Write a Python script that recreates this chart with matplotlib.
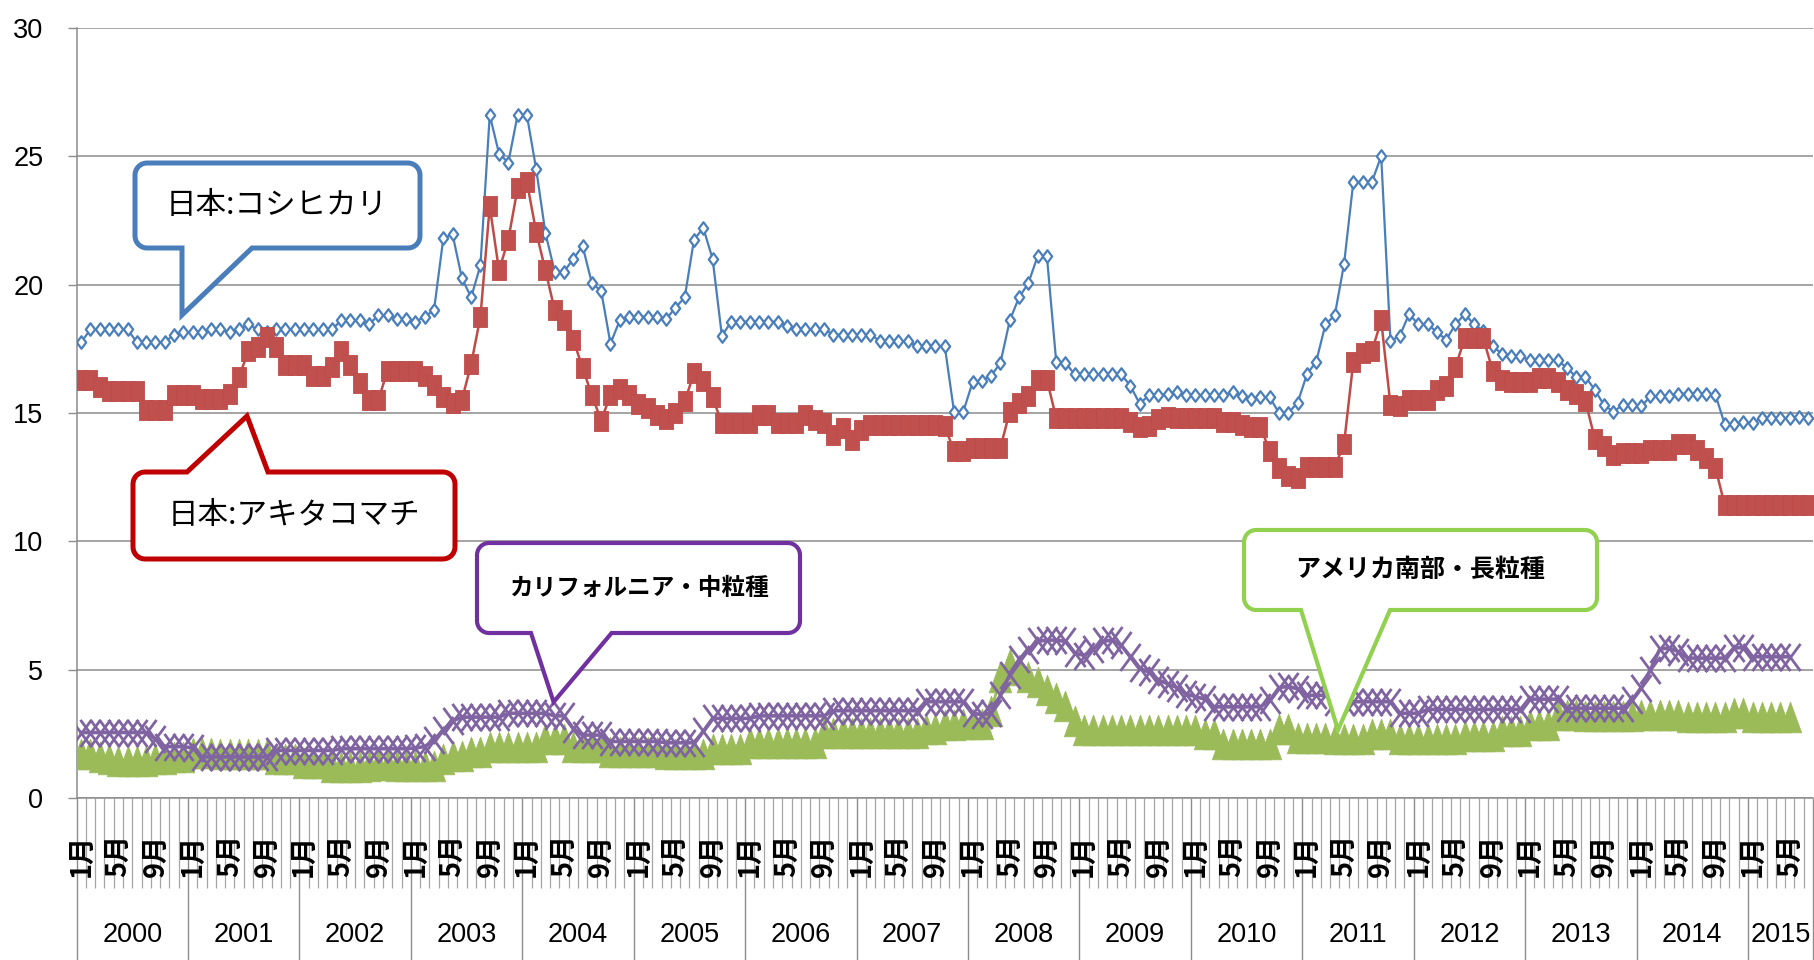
import matplotlib
matplotlib.use('Agg')
import matplotlib.pyplot as plt
from matplotlib import font_manager
from matplotlib.path import Path
from matplotlib.patches import PathPatch
from matplotlib.transforms import blended_transform_factory
import numpy as np

W, H = 1814, 960

names = {f.name for f in font_manager.fontManager.ttflist}
NARROW = 'Liberation Sans Narrow' if 'Liberation Sans Narrow' in names else 'Liberation Sans'
NUM_SIZE = 22 if NARROW == 'Liberation Sans Narrow' else 19.5
CJK = ['Noto Sans CJK JP', 'DejaVu Sans']
plt.rcParams['font.family'] = [NARROW, 'Noto Sans CJK JP', 'DejaVu Sans']

# ---------------- data (monthly, Jan 2000 - ) ----------------
years = [str(y) for y in range(2000, 2016)]
month_labels = ['1月', '5月', '9月']

koshihikari = [
    17.75, 18.25, 18.25, 18.25, 18.25, 18.25, 17.75, 17.75, 17.75, 17.75, 18.05, 18.15,
    18.15, 18.15, 18.25, 18.25, 18.15, 18.25, 18.45, 18.25, 18.15, 18.25, 18.25, 18.25,
    18.25, 18.25, 18.25, 18.25, 18.6, 18.6, 18.6, 18.45, 18.8, 18.8, 18.65, 18.65,
    18.55, 18.75, 19.0, 21.8, 21.95, 20.25, 19.5, 20.75, 26.6, 25.1, 24.75, 26.6,
    26.6, 24.5, 22.0, 20.5, 20.5, 21.0, 21.5, 20.05, 19.75, 17.7, 18.6, 18.75,
    18.75, 18.75, 18.75, 18.65, 19.1, 19.5, 21.75, 22.2, 21.0, 18.0, 18.55, 18.55,
    18.55, 18.55, 18.55, 18.55, 18.4, 18.25, 18.25, 18.25, 18.25, 18.05, 18.05, 18.05,
    18.05, 18.05, 17.8, 17.8, 17.8, 17.8, 17.6, 17.6, 17.6, 17.6, 15.05, 15.05,
    16.2, 16.25, 16.45, 16.95, 18.6, 19.5, 20.05, 21.1, 21.1, 17.0, 16.95, 16.5,
    16.5, 16.5, 16.5, 16.5, 16.5, 16.05, 15.35, 15.7, 15.7, 15.75, 15.8, 15.7,
    15.7, 15.7, 15.7, 15.7, 15.8, 15.65, 15.55, 15.6, 15.6, 15.0, 15.0, 15.4,
    16.5, 17.0, 18.45, 18.8, 20.8, 24.0, 24.0, 24.0, 25.0, 17.8, 18.0, 18.85,
    18.45, 18.45, 18.15, 17.85, 18.45, 18.85, 18.45, 18.2, 17.6, 17.3, 17.2, 17.2,
    17.05, 17.05, 17.05, 17.05, 16.75, 16.4, 16.4, 15.9, 15.3, 15.05, 15.3, 15.3,
    15.25, 15.65, 15.65, 15.65, 15.75, 15.75, 15.75, 15.75, 15.7, 14.55, 14.55, 14.65,
    14.6, 14.8, 14.8, 14.8, 14.8, 14.85, 14.8,
]

akitakomachi = [
    16.3, 16.3, 16.0, 15.85, 15.85, 15.85, 15.85, 15.1, 15.1, 15.1, 15.7, 15.7,
    15.7, 15.55, 15.55, 15.55, 15.75, 16.4, 17.4, 17.55, 17.95, 17.55, 16.85, 16.85,
    16.85, 16.45, 16.45, 16.8, 17.4, 16.85, 16.15, 15.5, 15.5, 16.65, 16.65, 16.65,
    16.65, 16.45, 16.1, 15.6, 15.4, 15.5, 16.9, 18.75, 23.05, 20.55, 21.75, 23.75,
    24.0, 22.05, 20.55, 19.0, 18.6, 17.85, 16.75, 15.7, 14.7, 15.7, 15.95, 15.7,
    15.35, 15.2, 14.92, 14.75, 15.0, 15.45, 16.55, 16.25, 15.6, 14.6, 14.6, 14.6,
    14.6, 14.92, 14.92, 14.6, 14.6, 14.6, 14.9, 14.73, 14.6, 14.15, 14.4, 13.95,
    14.35, 14.53, 14.53, 14.53, 14.53, 14.53, 14.53, 14.53, 14.53, 14.5, 13.5, 13.5,
    13.65, 13.65, 13.65, 13.65, 15.05, 15.4, 15.65, 16.3, 16.3, 14.8, 14.82, 14.82,
    14.82, 14.82, 14.82, 14.82, 14.82, 14.65, 14.45, 14.5, 14.75, 14.85, 14.8, 14.79,
    14.79, 14.79, 14.79, 14.65, 14.65, 14.53, 14.47, 14.47, 13.5, 12.85, 12.55, 12.45,
    12.9, 12.9, 12.9, 12.9, 13.8, 17.0, 17.35, 17.4, 18.6, 15.3, 15.25, 15.5,
    15.5, 15.5, 15.9, 16.05, 16.8, 17.9, 17.9, 17.9, 16.65, 16.3, 16.2, 16.2,
    16.2, 16.35, 16.35, 16.2, 15.9, 15.75, 15.45, 14.0, 13.7, 13.35, 13.45, 13.45,
    13.45, 13.55, 13.55, 13.55, 13.8, 13.8, 13.55, 13.25, 12.85, 11.4, 11.4, 11.4,
    11.4, 11.4, 11.4, 11.4, 11.4, 11.4, 11.4,
]

california = [
    2.55, 2.55, 2.55, 2.55, 2.55, 2.55, 2.55, 2.55, 2.3, 2.0, 2.0, 2.0,
    1.95, 1.6, 1.6, 1.6, 1.6, 1.6, 1.6, 1.6, 1.6, 1.85, 1.85, 1.85,
    1.85, 1.85, 1.85, 1.85, 1.92, 1.92, 1.92, 1.92, 1.92, 1.92, 1.92, 1.92,
    1.95, 2.0, 2.25, 2.65, 3.0, 3.15, 3.15, 3.15, 3.15, 3.15, 3.3, 3.3,
    3.3, 3.3, 3.3, 3.2, 3.2, 2.7, 2.45, 2.45, 2.45, 2.2, 2.2, 2.2,
    2.2, 2.2, 2.2, 2.15, 2.15, 2.15, 2.15, 2.6, 3.1, 3.1, 3.1, 3.1,
    3.1, 3.2, 3.2, 3.2, 3.2, 3.2, 3.2, 3.2, 3.2, 3.4, 3.4, 3.4,
    3.4, 3.4, 3.4, 3.4, 3.4, 3.4, 3.4, 3.75, 3.75, 3.75, 3.75, 3.75,
    3.3, 3.25, 3.3, 4.0, 4.8, 5.4, 5.75, 6.1, 6.15, 6.15, 6.1, 5.65,
    5.55, 5.8, 6.1, 6.15, 5.95, 5.5, 5.05, 4.9, 4.6, 4.45, 4.3, 4.05,
    3.95, 3.85, 3.55, 3.55, 3.55, 3.55, 3.55, 3.55, 3.8, 4.3, 4.35, 4.25,
    4.0, 4.0, 4.0, 3.75, 3.75, 3.75, 3.75, 3.75, 3.75, 3.75, 3.3, 3.3,
    3.3, 3.45, 3.45, 3.45, 3.45, 3.45, 3.45, 3.45, 3.45, 3.45, 3.45, 3.45,
    3.85, 3.85, 3.85, 3.85, 3.5, 3.5, 3.5, 3.5, 3.5, 3.5, 3.5, 3.8,
    4.3, 5.0, 5.8, 5.85, 5.7, 5.45, 5.45, 5.45, 5.45, 5.45, 5.85, 5.85,
    5.5, 5.5, 5.5, 5.5, 5.5,
]

us_south_long = [
    1.7, 1.7, 1.6, 1.5, 1.45, 1.45, 1.45, 1.45, 1.5, 1.5, 1.6, 1.6,
    1.75, 1.75, 1.75, 1.7, 1.7, 1.7, 1.7, 1.7, 1.7, 1.5, 1.5, 1.5,
    1.35, 1.35, 1.35, 1.2, 1.2, 1.2, 1.2, 1.25, 1.3, 1.3, 1.25, 1.25,
    1.25, 1.25, 1.25, 1.5, 1.65, 1.65, 1.8, 1.8, 2.0, 2.0, 2.0, 2.0,
    2.0, 2.0, 2.3, 2.3, 2.3, 2.0, 2.0, 2.0, 2.0, 1.8, 1.8, 1.8,
    1.8, 1.8, 1.8, 1.7, 1.7, 1.7, 1.7, 1.7, 1.9, 1.9, 1.9, 1.9,
    2.15, 2.15, 2.15, 2.15, 2.15, 2.15, 2.15, 2.15, 2.55, 2.55, 2.55, 2.55,
    2.55, 2.55, 2.55, 2.55, 2.55, 2.55, 2.55, 2.7, 2.7, 2.85, 2.85, 2.9,
    2.9, 2.9, 3.4, 4.7, 5.2, 5.0, 4.7, 4.5, 4.2, 3.9, 3.6, 3.0,
    2.65, 2.65, 2.65, 2.65, 2.65, 2.65, 2.65, 2.65, 2.65, 2.65, 2.65, 2.65,
    2.65, 2.5, 2.5, 2.1, 2.1, 2.1, 2.1, 2.1, 2.1, 2.7, 2.7, 2.35,
    2.35, 2.35, 2.35, 2.3, 2.3, 2.3, 2.3, 2.5, 2.5, 2.5, 2.3, 2.3,
    2.3, 2.3, 2.3, 2.3, 2.3, 2.4, 2.4, 2.4, 2.4, 2.6, 2.6, 2.6,
    2.85, 2.85, 2.85, 3.25, 3.25, 3.25, 3.2, 3.2, 3.2, 3.2, 3.2, 3.2,
    3.25, 3.25, 3.25, 3.25, 3.25, 3.15, 3.15, 3.15, 3.15, 3.15, 3.3, 3.3,
    3.15, 3.15, 3.15, 3.15, 3.15,
]

callout_texts = ['日本:コシヒカリ', '日本:アキタコマチ', 'カリフォルニア・中粒種', 'アメリカ南部・長粒種']

# ---------------- markers ----------------
M, L, C = Path.MOVETO, Path.LINETO, Path.CLOSEPOLY
diamond = Path([(0, 1), (0.75, 0), (0, -1), (-0.75, 0), (0, 1)], [M, L, L, L, C])
square = Path([(-0.72, -1), (0.72, -1), (0.72, 1), (-0.72, 1), (-0.72, -1)], [M, L, L, L, C])
tri = Path([(0, 1), (0.73, -1), (-0.73, -1), (0, 1)], [M, L, L, C])
xmark = Path([(-0.74, -1), (0.74, 1), (-0.74, 1), (0.74, -1)], [M, L, M, L])

fig = plt.figure(figsize=(W / 100, H / 100), dpi=100)
fig.patch.set_facecolor('white')
ax = fig.add_axes([76.5 / W, 1 - 798 / H, (1813 - 76.5) / W, (798 - 27.8) / H])

n_total = len(koshihikari)
ax.plot(np.arange(len(koshihikari)), koshihikari, color='#4A7EBB', lw=1.6,
        marker=diamond, ms=9.0, mfc='white', mec='#4A7EBB', mew=1.6, zorder=3)
ax.plot(np.arange(len(akitakomachi)), akitakomachi, color='#BE4B48', lw=1.8,
        marker=square, ms=14.5, mfc='#C0504D', mec='#BE4B48', mew=0.6, zorder=4)
ax.plot(np.arange(len(us_south_long)), us_south_long, color='#9BBB59', lw=2.0,
        marker=tri, ms=22, mfc='#9BBB59', mec='#9BBB59', mew=0.6, zorder=5)
ax.plot(np.arange(len(california)), california, color='#8064A2', lw=2.6,
        marker=xmark, ms=19.5, mfc='none', mec='#8064A2', mew=2.0, zorder=6)

ax.set_xlim(-0.5, n_total - 0.5)
ax.set_ylim(0, 30)

GRID = '#8C8C8C'
ax.set_yticks(range(0, 31, 5))
ax.yaxis.grid(True, color=GRID, lw=1.1)
ax.set_axisbelow(True)
for s in ['top', 'right']:
    ax.spines[s].set_visible(False)
for s in ['left', 'bottom']:
    ax.spines[s].set_color(GRID)
    ax.spines[s].set_linewidth(1.1)
ax.tick_params(axis='y', which='major', length=6.8, width=1, color=GRID,
               pad=17, labelsize=NUM_SIZE)

year_bounds = [-0.5 + 12 * k for k in range(16)] + [n_total - 0.5]
month_bounds = [i - 0.5 for i in range(n_total + 1)]
ax.set_xticks(year_bounds)
ax.set_xticks(month_bounds, minor=True)
ax.tick_params(axis='x', which='major', length=118, width=1, color=GRID, labelbottom=False)
ax.tick_params(axis='x', which='minor', length=65, width=0.9, color='#A6A6A6', labelbottom=False)

trans = blended_transform_factory(ax.transData, fig.transFigure)
for i in range(n_total):
    if i % 12 in (0, 4, 8):
        lab = month_labels[(i % 12) // 4]
        ax.text(i, 1 - 855 / H, lab, transform=trans, rotation=90, ha='center', va='center',
                fontsize=19.5, fontweight='bold', family=CJK)

for k, y in enumerate(years):
    lo = -0.5 + 12 * k
    hi = min(lo + 12, n_total - 0.5)
    ax.text((lo + hi) / 2, 1 - 935 / H, y, transform=trans, ha='center', va='center',
            fontsize=NUM_SIZE)


# ---------------- callouts ----------------
def bubble(x0, y0, x1, y1, side, pl, tip, pr, color, lw, r=12):
    pts = []

    def arc(cx, cy, a0, a1):
        for t in np.linspace(a0, a1, 9):
            pts.append((cx + r * np.cos(t), cy + r * np.sin(t)))

    arc(x0 + r, y0 + r, np.pi, 1.5 * np.pi)
    if side == 'top':
        pts.extend([(pl, y0), tip, (pr, y0)])
    arc(x1 - r, y0 + r, 1.5 * np.pi, 2 * np.pi)
    arc(x1 - r, y1 - r, 0, 0.5 * np.pi)
    if side == 'bottom':
        pts.extend([(pr, y1), tip, (pl, y1)])
    arc(x0 + r, y1 - r, 0.5 * np.pi, np.pi)
    verts = [(x / W, 1 - y / H) for x, y in pts]
    verts.append(verts[0])
    codes = [M] + [L] * (len(verts) - 2) + [C]
    p = PathPatch(Path(verts, codes), facecolor='white', edgecolor=color, lw=lw,
                  transform=fig.transFigure, zorder=10, joinstyle='miter')
    fig.add_artist(p)


bubble(135, 163, 420, 248, 'bottom', 182, (182, 315), 252, '#4A7EBB', 3.6)
fig.text(277 / W, 1 - 206 / H, callout_texts[0], ha='center', va='center',
         fontsize=22, family=CJK, zorder=11)

bubble(133, 472, 455, 559, 'top', 187, (247, 416), 268, '#C00000', 3.6)
fig.text(294 / W, 1 - 516 / H, callout_texts[1], ha='center', va='center',
         fontsize=22, family=CJK, zorder=11)

bubble(477, 543, 800, 633, 'bottom', 531, (553.6, 702), 611.6, '#7030A0', 3.0)
fig.text(638.5 / W, 1 - 588 / H, callout_texts[2], ha='center', va='center',
         fontsize=17, fontweight='bold', family=CJK, zorder=11)

bubble(1244, 530, 1597, 610, 'bottom', 1301, (1338, 730), 1390, '#92D050', 3.0)
fig.text(1420 / W, 1 - 570 / H, callout_texts[3], ha='center', va='center',
         fontsize=18, fontweight='bold', family=CJK, zorder=11)

fig.savefig('out.png', dpi=100)
